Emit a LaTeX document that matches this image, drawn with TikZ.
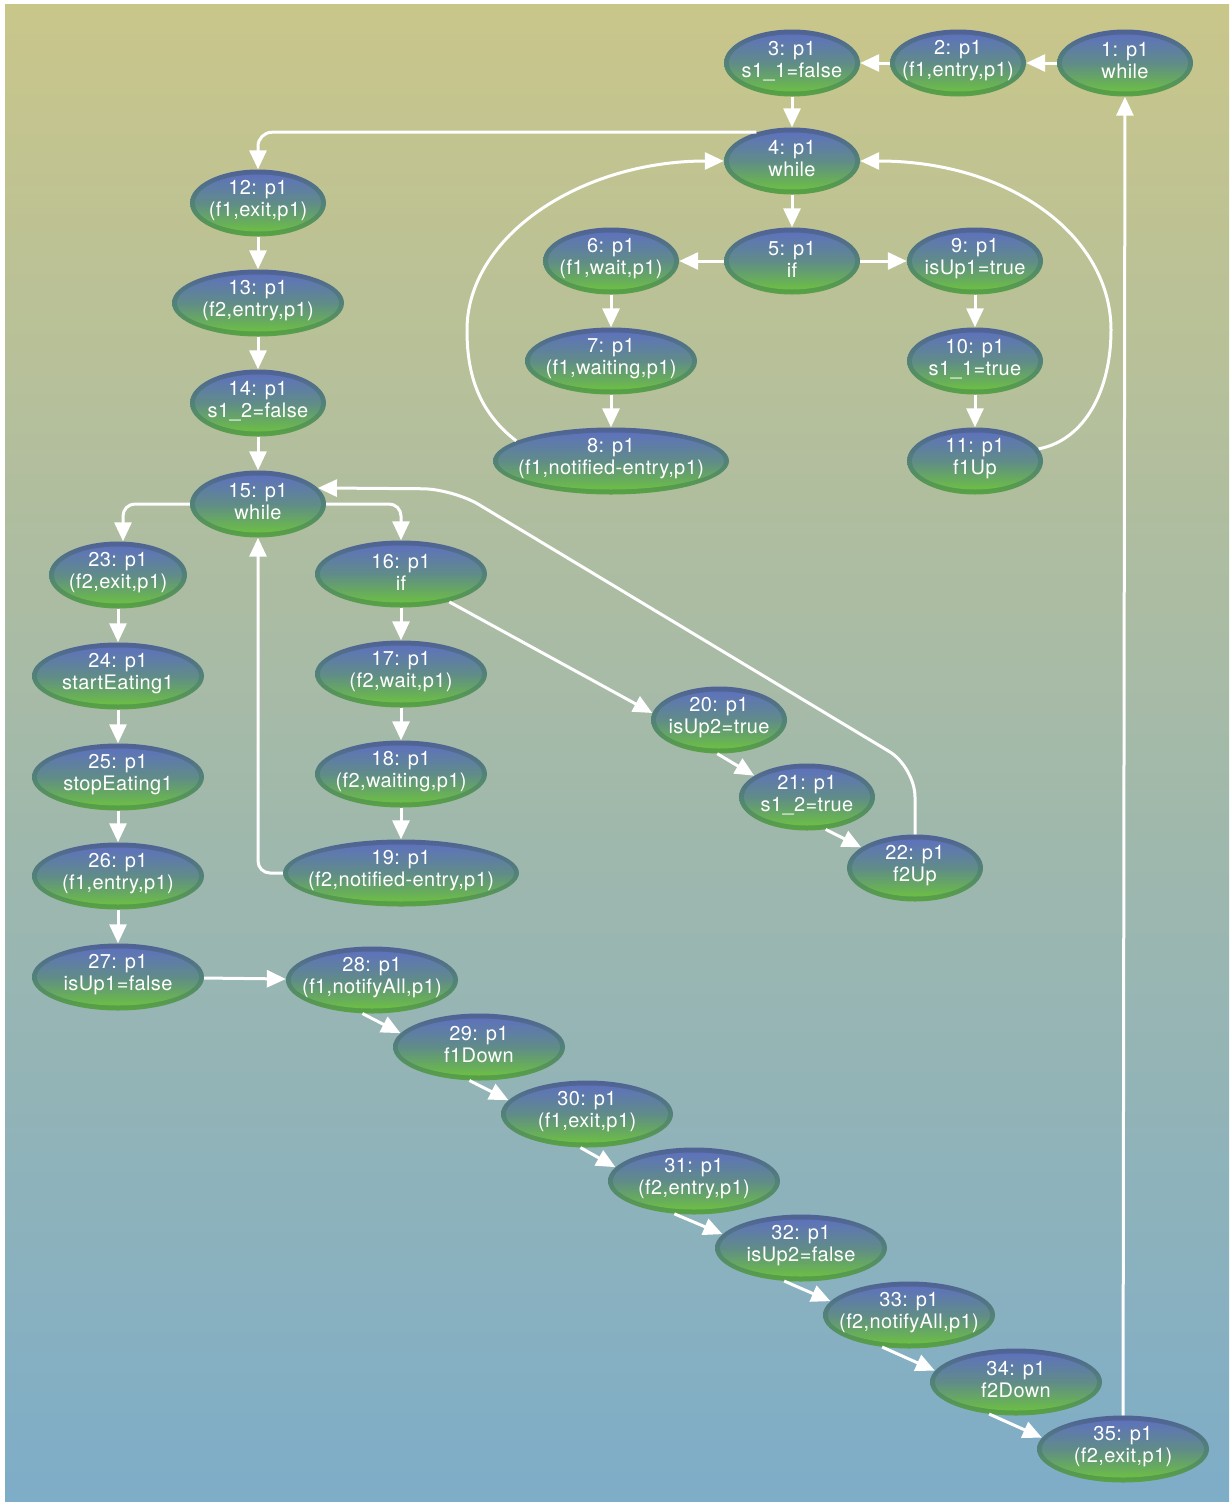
\documentclass[tikz,border=0pt]{standalone}
\usepackage{fontspec}
\setmainfont{TeX Gyre Heros}[LetterSpace=2]
\usetikzlibrary{arrows.meta,shapes.geometric}
\definecolor{bgtop}{RGB}{201,198,138}
\definecolor{bgbot}{RGB}{126,173,200}
\definecolor{ringtop}{RGB}{80,98,150}
\definecolor{ringmid}{RGB}{82,130,120}
\definecolor{ringbot}{RGB}{88,162,66}
\definecolor{coretop}{RGB}{94,114,188}
\definecolor{coremid}{RGB}{96,140,136}
\definecolor{corebot}{RGB}{108,190,68}
\tikzset{
  ring/.style={top color=ringtop,bottom color=ringbot,middle color=ringmid},
  core/.style={top color=coretop,bottom color=corebot,middle color=coremid},
  stnode/.style={ellipse,draw=none,inner sep=0pt,minimum height=67pt},
  lbl/.style={align=center,text=white,inner sep=0pt,yshift=2pt,font=\fontsize{20}{22}\selectfont},
  conn/.style={draw=white,line width=3pt,-{Triangle[length=19pt,width=17pt]}},
}
\newcommand\stnd[5]{%
  \shade[ring] (#2,#3) ellipse [x radius=#4, y radius=33.5];
  \shade[core] (#2,#3) ellipse [x radius=#4-5, y radius=28.5];
  \node[stnode,minimum width=2*#4] (#1) at (#2,#3) {};
  \node[lbl] (#1t) at (#1) {#5};
}
\begin{document}
\begin{tikzpicture}[x=1pt,y=-1pt]
\useasboundingbox (0,0) rectangle (1231,1502);
\fill[white] (0,0) rectangle (1231,1502);
\shade[top color=bgtop,bottom color=bgbot] (5,4) rectangle (1229,1502);
% nodes
\stnd{n1}{1125}{63}{68}{1: p1\\while}
\stnd{n2}{958}{63}{68}{2: p1\\(f1,entry,p1)}
\stnd{n3}{792}{63}{68}{3: p1\\s1\_1=false}
\stnd{n4}{792}{161}{68}{4: p1\\while}
\stnd{n5}{792}{261}{68}{5: p1\\if}
\stnd{n6}{611}{261}{68}{6: p1\\(f1,wait,p1)}
\stnd{n7}{611}{361}{86}{7: p1\\(f1,waiting,p1)}
\stnd{n8}{611}{461}{118}{8: p1\\(f1,notified-entry,p1)}
\stnd{n9}{975}{261}{68}{9: p1\\isUp1=true}
\stnd{n10}{975}{361}{68}{10: p1\\s1\_1=true}
\stnd{n11}{975}{461}{68}{11: p1\\f1Up}
\stnd{n12}{258}{203}{68}{12: p1\\(f1,exit,p1)}
\stnd{n13}{258}{303}{86}{13: p1\\(f2,entry,p1)}
\stnd{n14}{258}{403}{68}{14: p1\\s1\_2=false}
\stnd{n15}{258}{504}{68}{15: p1\\while}
\stnd{n16}{401}{574}{86}{16: p1\\if}
\stnd{n17}{401}{674}{86}{17: p1\\(f2,wait,p1)}
\stnd{n18}{401}{774}{86}{18: p1\\(f2,waiting,p1)}
\stnd{n19}{401}{873}{118}{19: p1\\(f2,notified-entry,p1)}
\stnd{n20}{719}{720}{68}{20: p1\\isUp2=true}
\stnd{n21}{807}{797}{68}{21: p1\\s1\_2=true}
\stnd{n22}{915}{868}{68}{22: p1\\f2Up}
\stnd{n23}{118}{575}{69}{23: p1\\(f2,exit,p1)}
\stnd{n24}{118}{676}{86}{24: p1\\startEating1}
\stnd{n25}{118}{777}{86}{25: p1\\stopEating1}
\stnd{n26}{118}{876}{86}{26: p1\\(f1,entry,p1)}
\stnd{n27}{118}{977}{86}{27: p1\\isUp1=false}
\stnd{n28}{372}{980}{86}{28: p1\\(f1,notifyAll,p1)}
\stnd{n29}{479}{1047}{86}{29: p1\\f1Down}
\stnd{n30}{587}{1114}{86}{30: p1\\(f1,exit,p1)}
\stnd{n31}{694}{1181}{86}{31: p1\\(f2,entry,p1)}
\stnd{n32}{801}{1248}{86}{32: p1\\isUp2=false}
\stnd{n33}{909}{1315}{86}{33: p1\\(f2,notifyAll,p1)}
\stnd{n34}{1016}{1382}{86}{34: p1\\f2Down}
\stnd{n35}{1123}{1449}{86}{35: p1\\(f2,exit,p1)}
% edges
\draw[conn] (n1) -- (n2);
\draw[conn] (n2) -- (n3);
\draw[conn] (n3) -- (n4);
\draw[conn] (n4) -- (n5);
\draw[conn] (n5) -- (n6);
\draw[conn] (n5) -- (n9);
\draw[conn] (n6) -- (n7);
\draw[conn] (n7) -- (n8);
\draw[conn] (n9) -- (n10);
\draw[conn] (n10) -- (n11);
\draw[conn,rounded corners=14pt] (n4.141) -| (n12);
\draw[conn] (n8.168) .. controls (476,410) and (467,370) .. (467,330) .. controls (467,236) and (581,161) .. (n4);
\draw[conn] (n11) .. controls (1085,440) and (1111,390) .. (1111,330) .. controls (1111,236) and (1010,161) .. (n4);
\draw[conn] (n12) -- (n13);
\draw[conn] (n13) -- (n14);
\draw[conn] (n14) -- (n15);
\draw[conn,rounded corners=12pt] (n15) -| ([xshift=5pt]n23.north);
\draw[conn,rounded corners=12pt] (n15) -| (n16);
\draw[conn,rounded corners=12pt] (n19) -| (n15);
\draw[conn] (n16) -- (n17);
\draw[conn] (n17) -- (n18);
\draw[conn] (n18) -- (n19);
\draw[conn] (n16.-30) -- (n20.174);
\draw[conn] (n20.-93) -- (n21.158);
\draw[conn] (n21.-60) -- (n22.159);
\draw[conn,rounded corners=30pt] (n22) -- (915,767) -- (453,489) -- (n15.15);
\draw[conn] (n23) -- (n24);
\draw[conn] (n24) -- (n25);
\draw[conn] (n25) -- (n26);
\draw[conn] (n26) -- (n27);
\draw[conn] (n27) -- (n28);
\draw[conn] (n28.-106) -- (n29.170);
\draw[conn] (n29.-106) -- (n30.170);
\draw[conn] (n30.-101) -- (n31.170);
\draw[conn] (n31.-121) -- (n32.170);
\draw[conn] (n32.-117) -- (n33.170);
\draw[conn] (n33.-130) -- (n34.172);
\draw[conn] (n34.-130) -- (n35.172);
\draw[conn] (n35) -- (n1);
\end{tikzpicture}
\end{document}
